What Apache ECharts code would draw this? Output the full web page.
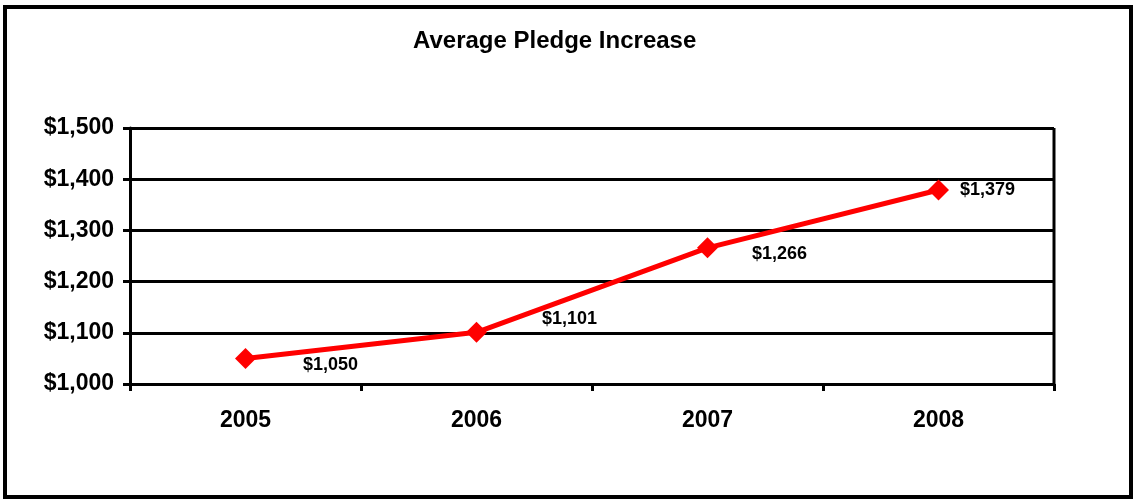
<!DOCTYPE html>
<html>
<head>
<meta charset="utf-8">
<script src="https://cdn.jsdelivr.net/npm/echarts@6/dist/echarts.min.js"></script>
<style>
	html, body { margin: 0; padding: 0; background: #fff; }
	#chartBox { width: 1134px; height: 500px; }
</style>
</head>
<body>
<div id="chartBox"></div>
<script>
var years = ['2005', '2006', '2007', '2008'];
var pledges = [1050, 1101, 1266, 1379];
var yTicks = [1000, 1100, 1200, 1300, 1400, 1500];
// label nudges per point (pixels), to sit like the original
var labelShift = [[42, 7], [50, -13], [29, 6], [6, 0]];

window.addEventListener('load', function() {
	var myChart = echarts.init(document.getElementById('chartBox'));

	function money(v) {
		return '$' + Number(v).toLocaleString('en-US');
	}

	var points = pledges.map(function(v, i) {
		return {
			value: v,
			label: { offset: labelShift[i] }
		};
	});

	var option = {
		animation: false,
		textStyle: { fontFamily: 'Liberation Sans, Arial, sans-serif' },
		title: {
			text: 'Average Pledge Increase',
			left: 413,
			top: 29,
			padding: 0,
			textStyle: { fontSize: 24, fontWeight: 'bold', color: '#000' }
		},
		grid: { left: 130, right: 80, top: 128, bottom: 116 },
		xAxis: {
			type: 'category',
			data: years,
			boundaryGap: true,
			axisLine: { lineStyle: { color: '#000', width: 3 } },
			axisTick: { show: true, length: 7, lineStyle: { color: '#000', width: 3 } },
			axisLabel: { margin: 25, fontSize: 23, fontWeight: 'bold', color: '#000' },
			splitLine: { show: false }
		},
		yAxis: {
			type: 'value',
			min: yTicks[0],
			max: yTicks[yTicks.length - 1],
			interval: 100,
			axisLine: { show: true, lineStyle: { color: '#000', width: 3 } },
			axisTick: { show: true, length: 7, lineStyle: { color: '#000', width: 3 } },
			axisLabel: {
				margin: 16,
				fontSize: 23,
				fontWeight: 'bold',
				color: '#000',
				formatter: money
			},
			splitLine: { show: true, lineStyle: { color: '#000', width: 3 } }
		},
		series: [{
			name: 'Average Pledge',
			type: 'line',
			data: points,
			symbol: 'diamond',
			symbolSize: 21,
			lineStyle: { color: '#ff0000', width: 5 },
			itemStyle: { color: '#ff0000' },
			label: {
				show: true,
				position: 'right',
				fontSize: 18,
				fontWeight: 'bold',
				color: '#000',
				formatter: function(p) { return money(p.value); }
			}
		}]
	};
	myChart.setOption(option);

	// outer frame and the right edge of the plot box
	var tl = myChart.convertToPixel({ gridIndex: 0 }, [0, yTicks[yTicks.length - 1]]);
	var r = 1134 - 80;
	myChart.setOption({
		graphic: [{
			type: 'rect',
			shape: { x: 5, y: 7, width: 1126, height: 490 },
			style: { fill: 'none', stroke: '#000', lineWidth: 4 },
			silent: true
		}, {
			type: 'line',
			shape: { x1: r, y1: tl[1], x2: r, y2: 500 - 116 },
			style: { stroke: '#000', lineWidth: 3 },
			silent: true
		}]
	});
});
</script>
</body>
</html>
